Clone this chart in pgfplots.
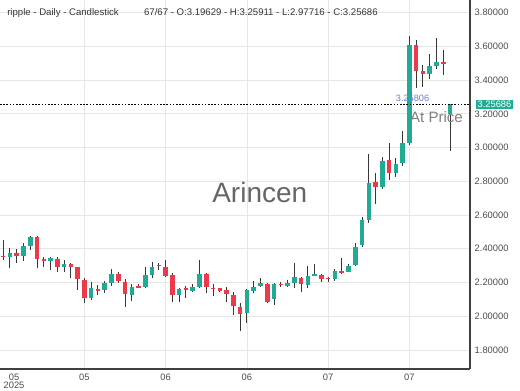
\documentclass[border=0pt]{standalone}
\usepackage{pgfplots}
\usepackage{pgfplotstable}
\usepackage{fontspec}
\setmainfont{Liberation Sans}
\pgfplotsset{compat=1.18}
\definecolor{cgreen}{RGB}{34,171,148}
\definecolor{cred}{RGB}{238,57,75}
\definecolor{wick}{RGB}{55,55,55}
\definecolor{gridc}{RGB}{230,230,230}
\definecolor{cblue}{RGB}{100,130,210}

% rising candles
\pgfplotstableread{
i O H L C
1 2.350 2.404 2.285 2.374
3 2.358 2.433 2.328 2.419
4 2.419 2.475 2.393 2.472
7 2.328 2.354 2.275 2.344
9 2.289 2.334 2.265 2.309
13 2.107 2.205 2.097 2.166
15 2.156 2.210 2.140 2.196
16 2.196 2.279 2.182 2.248
19 2.126 2.190 2.090 2.176
21 2.176 2.294 2.170 2.243
22 2.245 2.324 2.226 2.294
26 2.126 2.166 2.087 2.160
28 2.150 2.190 2.142 2.176
29 2.172 2.334 2.166 2.249
36 2.018 2.160 1.962 2.156
37 2.150 2.210 2.140 2.176
38 2.180 2.225 2.176 2.196
40 2.101 2.196 2.067 2.190
42 2.180 2.215 2.176 2.196
43 2.196 2.318 2.170 2.235
45 2.186 2.300 2.166 2.241
46 2.241 2.310 2.237 2.253
49 2.221 2.280 2.210 2.266
51 2.265 2.310 2.260 2.296
52 2.304 2.433 2.298 2.413
53 2.423 2.587 2.413 2.572
54 2.572 2.962 2.552 2.790
56 2.766 2.944 2.756 2.922
58 2.852 2.940 2.825 2.904
59 2.908 3.101 2.892 3.030
60 3.027 3.659 3.017 3.610
63 3.436 3.557 3.406 3.485
64 3.485 3.650 3.466 3.505
66 3.19629 3.25911 2.97716 3.25686
}\up

% falling candles
\pgfplotstableread{
i O H L C
0 2.360 2.453 2.334 2.352
2 2.374 2.399 2.315 2.358
5 2.472 2.475 2.285 2.338
6 2.338 2.354 2.294 2.328
8 2.340 2.354 2.265 2.290
10 2.309 2.315 2.226 2.289
11 2.289 2.294 2.156 2.220
12 2.215 2.225 2.081 2.110
14 2.160 2.186 2.126 2.152
17 2.249 2.261 2.196 2.209
18 2.205 2.220 2.057 2.130
20 2.180 2.190 2.165 2.172
23 2.305 2.318 2.275 2.298
24 2.294 2.334 2.235 2.241
25 2.245 2.255 2.087 2.126
27 2.165 2.180 2.110 2.160
30 2.249 2.255 2.140 2.172
31 2.170 2.190 2.122 2.163
32 2.166 2.170 2.146 2.150
33 2.156 2.176 2.087 2.130
34 2.126 2.146 2.008 2.060
35 2.057 2.080 1.910 2.015
39 2.192 2.198 2.077 2.085
41 2.193 2.205 2.176 2.188
44 2.229 2.233 2.146 2.190
47 2.247 2.250 2.200 2.218
48 2.228 2.235 2.205 2.222
50 2.268 2.348 2.249 2.262
55 2.796 2.849 2.667 2.765
57 2.928 3.030 2.809 2.852
61 3.610 3.640 3.353 3.452
62 3.452 3.490 3.359 3.438
65 3.505 3.576 3.432 3.500
}\down

\pgfplotsset{
  candle/.style={only marks, mark=*, mark size=0pt,
    mark options={draw opacity=0, fill opacity=0},
    error bars/.cd, y dir=both, y explicit, error mark=none},
}

\begin{document}
\begin{tikzpicture}
\useasboundingbox (0,-15.75pt) rectangle (390pt,276.75pt);
\begin{axis}[
  at={(0,0)}, anchor=south west,
  scale only axis, width=352.5pt, height=276.75pt,
  xmin=-0.47, xmax=68.95, ymin=1.687, ymax=3.875,
  axis x line*=bottom, axis y line*=right,
  axis line style={-, draw=black!75, line width=0.8pt},
  ytick={1.8,2.0,2.2,2.4,2.6,2.8,3.0,3.2,3.4,3.6,3.8},
  yticklabel style={/pgf/number format/.cd, fixed, fixed zerofill, precision=5},
  xtick={12,24,36,48,60}, xticklabels={05,06,06,07,07},
  extra x ticks={1.6}, extra x tick labels={05\\[-1.5pt]2025},
  extra x tick style={grid=none, xticklabel style={align=center}},
  grid=major, grid style={gridc, line width=0.6pt},
  major tick length=0pt,
  tick label style={font=\fontsize{7}{7.5}\selectfont, text=black!70},
  /pgf/number format/assume math mode=true,
  clip=false,
]
% wicks
\addplot[candle, error bar style={wick, line width=0.75pt}]
  table[x=i, y expr={(\thisrow{H}+\thisrow{L})/2}, y error expr={(\thisrow{H}-\thisrow{L})/2}] {\up};
\addplot[candle, error bar style={wick, line width=0.75pt}]
  table[x=i, y expr={(\thisrow{H}+\thisrow{L})/2}, y error expr={(\thisrow{H}-\thisrow{L})/2}] {\down};
% bodies
\addplot[candle, error bar style={cgreen, line width=3.4pt}]
  table[x=i, y expr={(\thisrow{O}+\thisrow{C})/2}, y error expr={max(abs(\thisrow{C}-\thisrow{O})/2,0.003)}] {\up};
\addplot[candle, error bar style={cred, line width=3.4pt}]
  table[x=i, y expr={(\thisrow{O}+\thisrow{C})/2}, y error expr={max(abs(\thisrow{C}-\thisrow{O})/2,0.003)}] {\down};
% current price line
\addplot[black, line width=0.75pt, dash pattern=on 1.2pt off 1.2pt] coordinates {(-0.47,3.25686) (68.95,3.25686)};

\node[text=black!60, font=\fontsize{21}{21}\selectfont] at (axis cs:37.9,2.731) {Arincen};
\node[text=cblue, font=\fontsize{6.9}{7}\selectfont] at (axis cs:60.46,3.294) {3.25806};
\node[text=black!50, font=\fontsize{11.3}{12}\selectfont] at (axis cs:64.0,3.183) {At Price};
\node[fill=cgreen, text=white, anchor=west, inner xsep=1pt, inner ysep=1pt, xshift=4.5pt,
  font=\fontsize{7}{7.5}\selectfont] at (axis cs:68.95,3.25686) {3.25686};
\node[anchor=west, inner sep=0pt, text=black!80, font=\fontsize{7.2}{8}\selectfont,
  xshift=5.25pt, yshift=-9.4pt] at (rel axis cs:0,1)
  {ripple - Daily - Candlestick\hspace{19pt}67/67 - O:3.19629 - H:3.25911 - L:2.97716 - C:3.25686};
\end{axis}
\end{tikzpicture}
\end{document}
